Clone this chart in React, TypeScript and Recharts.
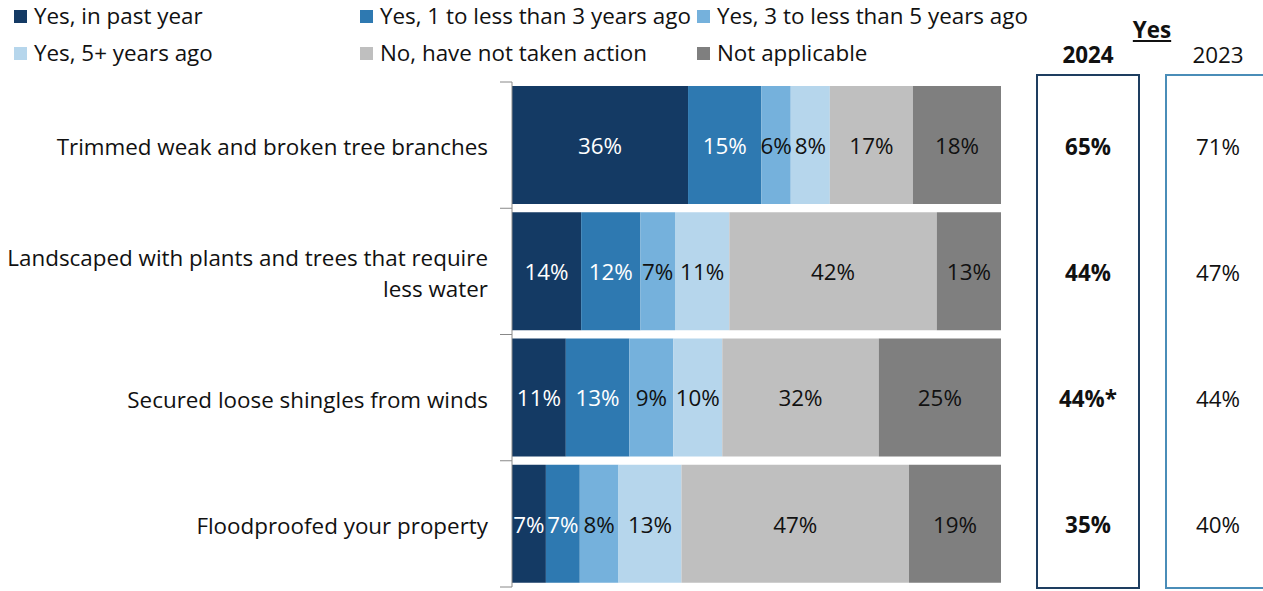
import React from "react";
import { BarChart, Bar, XAxis, YAxis, LabelList } from "recharts";

const categories = [
  "Trimmed weak and broken tree branches",
  "Landscaped with plants and trees that require less water",
  "Secured loose shingles from winds",
  "Floodproofed your property",
];
const seriesNames = [
  "Yes, in past year",
  "Yes, 1 to less than 3 years ago",
  "Yes, 3 to less than 5 years ago",
  "Yes, 5+ years ago",
  "No, have not taken action",
  "Not applicable",
];
const pastYear = [36, 14, 11, 7];
const oneToThree = [15, 12, 13, 7];
const threeToFive = [6, 7, 9, 8];
const fivePlus = [8, 11, 10, 13];
const noAction = [17, 42, 32, 47];
const notApplicable = [18, 13, 25, 19];
const yes2024 = ["65%", "44%", "44%*", "35%"];
const yes2023 = ["71%", "47%", "44%", "40%"];

const colors = ["#143A64", "#2E79B1", "#75B1DC", "#B6D6EC", "#BFBFBF", "#7F7F7F"];
const labelColors = ["#FFFFFF", "#FFFFFF", "#111111", "#111111", "#111111", "#111111"];
const keys = ["s0", "s1", "s2", "s3", "s4", "s5"];
const seriesValues = [pastYear, oneToThree, threeToFive, fivePlus, noAction, notApplicable];

const data = categories.map((name, i) => {
  const row: Record<string, any> = { name, y24: yes2024[i], y23: yes2023[i] };
  keys.forEach((k, j) => (row[k] = seriesValues[j][i]));
  return row;
});

const FONT = "'Open Sans', sans-serif";
const FS = 22.4;

function wrap(text: string, max: number): string[] {
  const words = text.split(" ");
  const lines: string[] = [];
  let cur = "";
  words.forEach((w) => {
    const t = cur ? cur + " " + w : w;
    if (t.length > max && cur) {
      lines.push(cur);
      cur = w;
    } else cur = t;
  });
  if (cur) lines.push(cur);
  return lines;
}

const LEFT_MARGIN = 24;

const LeftTick = (props: any) => {
  const { x, y, payload, index, visibleTicksCount } = props;
  const lines = wrap(String(payload.value), 46);
  const lh = 31;
  const axisX = x + LEFT_MARGIN;
  const off = payload.offset || 0;
  const start = y + 1 - ((lines.length - 1) * lh) / 2;
  return (
    <g>
      <line x1={axisX - 12} x2={axisX} y1={y - off} y2={y - off} stroke="#888" strokeWidth={1} />
      {index === (visibleTicksCount ?? 4) - 1 && (
        <line x1={axisX - 12} x2={axisX} y1={y + off} y2={y + off} stroke="#888" strokeWidth={1} />
      )}
      <text x={x} y={start} textAnchor="end" dominantBaseline="central" fontFamily={FONT} fontSize={FS} fill="#111">
        {lines.map((l, i) => (
          <tspan key={i} x={x} dy={i === 0 ? 0 : lh}>
            {l}
          </tspan>
        ))}
      </text>
    </g>
  );
};

const RightTick = (props: any) => {
  const { x, y, index } = props;
  const base = x - 8;
  return (
    <g>
      <text x={base + 87} y={y + 1} textAnchor="middle" dominantBaseline="central" fontFamily={FONT} fontSize={FS} fontWeight={700} fill="#111">
        {yes2024[index]}
      </text>
      <text x={base + 217} y={y + 1} textAnchor="middle" dominantBaseline="central" fontFamily={FONT} fontSize={FS} fill="#111">
        {yes2023[index]}
      </text>
    </g>
  );
};

const legendPos = [
  { left: 14, top: 16 },
  { left: 360, top: 16 },
  { left: 697, top: 16 },
  { left: 14, top: 53 },
  { left: 360, top: 53 },
  { left: 697, top: 53 },
];

export default function App() {
  return (
    <div style={{ position: "absolute", left: 0, top: 0, width: 1263, height: 591, background: "#fff", overflow: "hidden", fontFamily: FONT }}>
      {seriesNames.map((n, i) => (
        <div
          key={n}
          style={{
            position: "absolute",
            left: legendPos[i].left,
            top: legendPos[i].top - 12,
            height: 24,
            lineHeight: "24px",
            display: "flex",
            alignItems: "center",
            fontSize: FS,
            color: "#111",
            whiteSpace: "nowrap",
          }}
        >
          <span style={{ display: "inline-block", width: 13, height: 13, background: colors[i], marginRight: 7 }} />
          <span>{n}</span>
        </div>
      ))}
      <div style={{ position: "absolute", left: 1112, width: 80, top: 18, lineHeight: "24px", textAlign: "center", fontSize: FS, fontWeight: 700, textDecoration: "underline", color: "#111" }}>
        Yes
      </div>
      <div style={{ position: "absolute", left: 1048, width: 80, top: 43, lineHeight: "24px", textAlign: "center", fontSize: FS, fontWeight: 700, color: "#111" }}>
        2024
      </div>
      <div style={{ position: "absolute", left: 1178, width: 80, top: 43, lineHeight: "24px", textAlign: "center", fontSize: FS, color: "#111" }}>
        2023
      </div>
      <div style={{ position: "absolute", left: 1036, top: 74, width: 104, height: 515, border: "2px solid #1E3E60", boxSizing: "border-box" }} />
      <div style={{ position: "absolute", left: 1165, top: 74, width: 120, height: 515, border: "2px solid #4A8DB8", boxSizing: "border-box" }} />
      <div style={{ position: "absolute", left: 0, top: 0 }}>
        <BarChart
          width={1263}
          height={591}
          data={data}
          layout="vertical"
          stackOffset="expand"
          barCategoryGap={4}
          margin={{ top: 82, right: 0, bottom: 4, left: 0 }}
        >
          <XAxis type="number" domain={[0, 1]} hide />
          <YAxis
            yAxisId="left"
            type="category"
            dataKey="name"
            width={512}
            tickSize={0}
            tickMargin={LEFT_MARGIN}
            tickLine={false}
            axisLine={{ stroke: "#888" }}
            tick={<LeftTick />}
            interval={0}
          />
          <YAxis
            yAxisId="right"
            orientation="right"
            type="category"
            dataKey="name"
            width={262}
            tickSize={0}
            tickMargin={8}
            tickLine={false}
            axisLine={false}
            tick={<RightTick />}
            interval={0}
          />
          {keys.map((k, i) => (
            <Bar key={k} yAxisId="left" dataKey={k} stackId="a" fill={colors[i]} name={seriesNames[i]} isAnimationActive={false}>
              <LabelList
                dataKey={k}
                position="center"
                formatter={(v: any) => `${v}%`}
                fill={labelColors[i]}
                offset={0}
                style={{ fontFamily: FONT, fontSize: FS }}
                dy={1}
              />
            </Bar>
          ))}
        </BarChart>
      </div>
    </div>
  );
}
